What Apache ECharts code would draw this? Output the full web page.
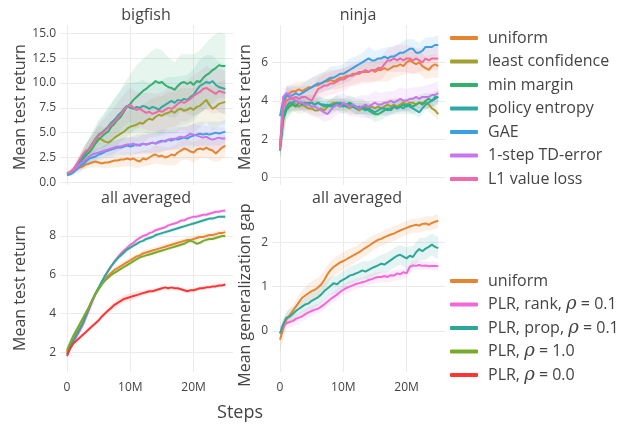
<!DOCTYPE html>
<html><head><meta charset="utf-8">
<script src="https://cdn.jsdelivr.net/npm/echarts@6/dist/echarts.min.js"></script>
<style>html,body{margin:0;padding:0;background:#fff}#c{width:640px;height:426px}</style>
</head><body><div id="c"></div>
<script>
// x positions in millions of steps
const steps = [0,0.5,1,1.5,2,2.5,3,3.5,4,4.5,5,5.5,6,6.5,7,7.5,8,8.5,9,9.5,10,10.5,11,11.5,12,12.5,13,13.5,14,14.5,15,15.5,16,16.5,17,17.5,18,18.5,19,19.5,20,20.5,21,21.5,22,22.5,23,23.5,24,24.5,25];
const bandSteps = [0,1,2,3,4,5,6,7,8,9,10,11,12,13,14,15,16,17,18,19,20,21,22,23,24,25];
const xTicks = [0,10,20];
const bigfishTicks = [0,2.5,5,7.5,10,12.5,15];
const ninjaTicks = [0,2,4,6];
const avgTicks = [2,4,6,8];
const gapTicks = [0,1,2];

const names1 = ['uniform','least confidence','min margin','policy entropy','GAE','1-step TD-error','L1 value loss'];
const colors1 = ['#e6852f','#a3a033','#33b06a','#2eaaa4','#3a9fe6','#c875f0','#f06aa8'];
const names2 = ['uniform','PLR, rank, ρ = 0.1','PLR, prop, ρ = 0.1','PLR, ρ = 1.0','PLR, ρ = 0.0'];
const colors2 = ['#e6852f','#f268d8','#2ca89a','#7aaa2c','#ff3535'];

// bigfish
const bigfishUniform = [0.9,1.0,1.1,1.3,1.5,1.6,1.8,1.9,2.0,2.1,2.0,1.9,2.0,2.0,2.1,2.2,2.2,2.3,2.3,2.4,2.3,2.4,2.2,2.1,2.4,2.3,2.5,2.7,2.8,2.6,2.7,2.5,2.6,2.8,2.7,3.0,3.2,3.4,3.3,3.1,3.0,3.3,3.4,3.3,3.5,3.3,3.2,2.9,3.2,3.5,3.7];
const bigfishLeastConf = [0.9,1.0,1.3,1.7,2.2,2.6,3.0,3.3,3.8,4.2,4.5,4.3,4.1,4.0,4.2,4.5,4.7,4.9,5.1,5.4,5.6,5.7,5.8,6.0,5.9,6.2,6.4,6.3,6.6,6.8,6.7,6.9,7.0,7.2,7.0,7.3,7.4,7.2,7.3,7.5,7.3,7.6,7.7,8.0,8.3,7.8,7.4,7.6,7.9,8.0,8.1];
const bigfishMinMargin = [0.8,0.9,1.1,1.4,1.8,2.3,2.7,3.0,3.4,3.9,4.3,4.6,4.9,5.1,5.6,5.9,6.3,6.6,7.1,7.6,7.9,8.3,8.6,8.9,9.2,9.4,9.7,9.9,10.2,10.0,10.1,9.8,9.6,9.5,9.3,9.7,10.0,10.1,9.9,10.1,9.8,10.2,10.1,10.5,10.8,11.0,11.3,11.5,11.8,11.7,11.7];
const bigfishPolicyEnt = [0.8,0.9,1.2,1.6,2.1,2.6,3.0,3.4,3.9,4.4,4.8,5.0,5.3,5.6,6.0,6.3,6.7,7.0,7.4,7.7,7.5,7.4,7.6,7.5,7.7,7.6,7.4,7.6,7.5,7.3,7.6,7.8,8.0,8.2,8.0,8.3,8.2,8.4,8.3,8.6,8.8,9.3,9.7,9.9,10.1,10.0,10.2,9.8,9.6,9.5,9.4];
const bigfishGAE = [0.7,0.8,1.0,1.3,1.6,1.8,2.1,2.4,2.5,2.6,2.8,2.9,3.1,3.2,3.3,3.4,3.5,3.5,3.6,3.7,3.6,3.7,3.8,3.7,3.9,3.8,3.9,4.0,3.9,4.1,4.2,4.1,4.3,4.2,4.4,4.3,4.4,4.5,4.4,4.6,4.7,4.8,4.9,4.8,4.9,4.8,4.9,5.0,4.9,5.0,5.1];
const bigfishTD = [0.9,1.0,1.2,1.5,1.8,2.1,2.3,2.6,2.8,2.9,3.0,3.1,3.2,3.3,3.4,3.5,3.6,3.6,3.7,3.8,3.8,3.9,3.7,3.8,3.9,3.8,3.9,4.0,3.9,4.0,4.1,4.2,4.3,4.4,4.3,4.5,4.6,4.5,4.7,4.9,4.8,4.7,4.6,4.5,4.6,4.4,4.3,4.4,4.5,4.4,4.4];
const bigfishL1 = [0.9,1.0,1.3,1.8,2.3,2.8,3.2,3.3,3.8,4.3,4.7,4.9,5.2,5.5,5.8,6.1,6.5,6.8,7.3,7.6,7.8,7.5,7.3,7.4,7.2,7.0,7.1,6.9,7.0,7.2,7.1,7.3,7.5,7.4,7.6,7.9,8.1,8.0,8.2,8.4,8.7,8.9,9.1,9.4,9.5,9.3,9.1,8.9,9.2,9.1,9.0];
// bigfish band half-widths (at bandSteps)
const bigfishUniformHW = [0.1,0.2,0.3,0.4,0.5,0.5,0.6,0.6,0.7,0.7,0.7,0.8,0.8,0.8,0.9,0.9,0.9,1.0,1.0,1.0,1.0,1.0,1.0,1.1,1.1,1.1];
const bigfishLeastConfHW = [0.2,0.3,0.5,0.8,1.0,1.2,1.4,1.5,1.6,1.7,1.8,1.8,1.9,1.9,2.0,2.0,2.1,2.1,2.1,2.2,2.2,2.2,2.2,2.2,2.2,2.2];
const bigfishMinMarginHW = [0.2,0.4,0.8,1.2,1.5,1.8,2.0,2.3,2.5,2.8,3.0,3.2,3.2,3.3,3.3,3.2,3.0,2.8,2.9,3.0,3.1,3.2,3.3,3.4,3.3,3.2];
const bigfishPolicyEntHW = [0.2,0.3,0.6,0.9,1.2,1.5,1.8,2.0,2.2,2.3,2.5,2.5,2.6,2.6,2.7,2.7,2.6,2.6,2.5,2.5,2.6,2.7,2.7,2.6,2.5,2.5];
const bigfishGAEHW = [0.1,0.2,0.3,0.4,0.5,0.6,0.7,0.8,0.8,0.9,0.9,1.0,1.0,1.0,1.1,1.1,1.1,1.1,1.2,1.2,1.2,1.2,1.2,1.2,1.2,1.2];
const bigfishTDHW = [0.1,0.2,0.3,0.4,0.5,0.5,0.6,0.7,0.7,0.8,0.8,0.8,0.9,0.9,0.9,1.0,1.0,1.0,1.0,1.0,1.1,1.1,1.1,1.1,1.1,1.1];
const bigfishL1HW = [0.2,0.3,0.5,0.7,0.9,1.1,1.3,1.4,1.5,1.6,1.7,1.8,1.8,1.9,1.9,2.0,2.0,2.0,2.0,2.1,2.1,2.1,2.2,2.2,2.2,2.2];

// ninja
const ninjaUniform = [1.6,3.8,4.2,4.4,4.5,4.5,4.6,4.5,4.6,4.7,4.7,4.8,4.8,4.9,5.0,5.0,5.1,5.0,5.1,5.2,5.2,5.3,5.3,5.4,5.4,5.4,5.5,5.5,5.5,5.6,5.5,5.6,5.6,5.7,5.6,5.7,5.8,5.8,5.9,5.8,6.0,6.1,6.0,5.9,6.0,5.8,5.7,5.6,5.8,5.9,5.8];
const ninjaLeastConf = [1.6,3.3,3.6,3.8,3.9,3.8,3.7,3.8,3.7,3.6,3.6,3.5,3.5,3.6,3.5,3.7,3.8,3.9,3.8,3.7,3.8,3.7,3.6,3.7,3.6,3.5,3.6,3.7,3.6,3.7,3.6,3.7,3.6,3.7,3.8,3.7,3.8,3.7,3.8,3.9,3.8,3.9,3.9,3.8,3.9,3.9,3.9,3.8,3.6,3.5,3.3];
const ninjaMinMargin = [1.4,3.0,3.5,3.7,3.8,3.7,3.9,3.8,3.9,3.8,3.9,3.8,3.9,3.8,3.7,3.8,3.7,3.8,3.9,3.8,3.7,3.8,3.9,3.8,3.7,3.6,3.7,3.6,3.5,3.4,3.3,3.3,3.4,3.5,3.6,3.5,3.7,3.6,3.7,3.8,3.7,3.8,3.7,3.8,3.9,3.8,4.0,4.1,4.0,4.1,4.2];
const ninjaPolicyEnt = [1.5,3.2,3.7,3.9,3.9,4.0,3.9,3.9,3.8,3.9,3.9,3.8,3.9,3.8,3.8,3.7,3.8,3.7,3.8,3.9,3.8,3.7,3.8,3.7,3.6,3.7,3.6,3.5,3.6,3.5,3.4,3.5,3.6,3.6,3.5,3.6,3.7,3.6,3.7,3.6,3.8,3.7,3.6,3.5,3.4,3.6,3.8,3.9,4.0,4.2,4.2];
const ninjaGAE = [3.2,4.0,4.3,4.2,4.3,4.4,4.3,4.4,4.5,4.6,4.7,4.8,4.9,4.9,5.0,5.1,5.2,5.2,5.3,5.4,5.4,5.5,5.6,5.7,5.8,5.9,6.0,6.1,6.2,6.1,6.1,6.2,6.2,6.3,6.2,6.3,6.3,6.4,6.5,6.5,6.6,6.7,6.7,6.5,6.5,6.6,6.8,6.8,6.8,6.9,6.9];
const ninjaTD = [1.5,4.2,4.4,4.3,4.1,4.0,3.9,3.9,3.8,3.8,3.7,3.7,3.6,3.5,3.4,3.3,3.5,3.7,3.8,3.7,3.9,3.8,3.7,3.8,3.7,3.6,3.7,3.8,3.7,3.8,3.9,3.8,3.8,3.9,3.9,4.0,3.9,4.0,4.1,4.0,4.0,4.1,4.1,4.2,4.1,4.2,4.2,4.2,4.3,4.3,4.4];
const ninjaL1 = [1.5,3.6,4.0,4.1,4.1,4.2,4.1,4.2,4.2,4.1,4.0,4.3,4.6,4.7,4.8,4.8,4.9,4.9,5.0,5.1,5.1,5.2,5.3,5.3,5.4,5.5,5.5,5.6,5.5,5.6,5.6,5.7,5.7,5.9,6.1,6.1,6.2,6.1,6.2,6.1,6.2,6.2,6.1,6.2,6.1,6.0,6.2,6.1,6.2,6.2,6.2];
const ninjaUniformHW = [0.5,0.5,0.4,0.4,0.4,0.5,0.5,0.5,0.5,0.5,0.5,0.5,0.5,0.5,0.5,0.5,0.6,0.6,0.6,0.6,0.6,0.6,0.6,0.6,0.6,0.6];
const ninjaLeastConfHW = [0.5,0.4,0.4,0.4,0.3,0.3,0.3,0.3,0.3,0.3,0.3,0.3,0.3,0.3,0.3,0.3,0.3,0.3,0.3,0.3,0.3,0.3,0.3,0.3,0.3,0.3];
const ninjaMinMarginHW = [0.6,0.5,0.4,0.4,0.4,0.4,0.4,0.4,0.4,0.4,0.4,0.4,0.4,0.4,0.4,0.4,0.4,0.4,0.4,0.4,0.4,0.4,0.4,0.4,0.4,0.4];
const ninjaPolicyEntHW = [0.5,0.4,0.4,0.3,0.3,0.3,0.3,0.3,0.3,0.3,0.3,0.3,0.3,0.3,0.3,0.3,0.3,0.3,0.3,0.3,0.3,0.3,0.3,0.3,0.3,0.3];
const ninjaGAEHW = [0.4,0.5,0.5,0.5,0.5,0.5,0.5,0.5,0.6,0.5,0.5,0.6,0.5,0.5,0.6,0.5,0.5,0.6,0.5,0.5,0.6,0.5,0.5,0.5,0.5,0.5];
const ninjaTDHW = [0.5,0.4,0.4,0.4,0.4,0.5,0.5,0.5,0.5,0.5,0.5,0.5,0.5,0.6,0.6,0.6,0.6,0.6,0.6,0.6,0.6,0.6,0.6,0.6,0.6,0.6];
const ninjaL1HW = [0.5,0.6,0.6,0.6,0.6,0.6,0.6,0.6,0.6,0.6,0.6,0.6,0.6,0.6,0.6,0.6,0.6,0.6,0.7,0.7,0.7,0.7,0.6,0.6,0.6,0.6];

// all averaged: mean test return
const avgUniform = [2.0,2.4,2.8,3.1,3.4,3.7,4.0,4.35,4.7,5.0,5.3,5.55,5.75,5.95,6.1,6.25,6.35,6.45,6.55,6.65,6.75,6.85,6.95,7.0,7.1,7.15,7.2,7.25,7.3,7.35,7.4,7.45,7.5,7.55,7.6,7.65,7.7,7.75,7.8,7.8,7.85,7.9,7.95,7.95,8.0,8.05,8.05,8.1,8.15,8.15,8.2];
const avgRank = [1.9,2.2,2.5,2.8,3.1,3.4,3.8,4.2,4.6,5.0,5.3,5.6,5.9,6.2,6.45,6.7,6.9,7.1,7.25,7.4,7.55,7.65,7.8,7.9,8.0,8.05,8.15,8.2,8.3,8.35,8.4,8.45,8.55,8.6,8.65,8.7,8.8,8.8,8.9,8.95,9.0,9.0,9.05,9.1,9.1,9.15,9.2,9.25,9.25,9.3,9.3];
const avgProp = [1.9,2.3,2.6,2.9,3.2,3.5,3.9,4.3,4.7,5.05,5.35,5.65,5.95,6.2,6.45,6.65,6.85,7.0,7.15,7.3,7.4,7.5,7.6,7.7,7.75,7.85,7.9,7.95,8.05,8.1,8.15,8.2,8.25,8.3,8.35,8.4,8.45,8.5,8.55,8.6,8.65,8.7,8.75,8.8,8.85,8.9,8.9,8.95,9.0,9.0,9.0];
const avgRho1 = [2.1,2.5,2.85,3.15,3.45,3.75,4.05,4.35,4.7,5.0,5.25,5.5,5.7,5.85,6.0,6.1,6.2,6.3,6.4,6.5,6.6,6.7,6.8,6.9,6.95,7.0,7.05,7.1,7.15,7.2,7.25,7.3,7.35,7.4,7.45,7.5,7.55,7.6,7.7,7.75,7.7,7.6,7.65,7.75,7.8,7.85,7.85,7.9,7.95,8.0,8.0];
const avgRho0 = [1.8,2.2,2.45,2.6,2.75,2.9,3.05,3.2,3.35,3.5,3.65,3.85,4.0,4.15,4.3,4.45,4.55,4.65,4.75,4.8,4.85,4.9,4.95,5.0,5.05,5.1,5.15,5.15,5.2,5.25,5.3,5.35,5.3,5.35,5.3,5.3,5.25,5.2,5.15,5.2,5.2,5.25,5.3,5.3,5.35,5.35,5.4,5.4,5.45,5.45,5.5];
const avgUniformHW = [0.05,0.1,0.1,0.1,0.1,0.1,0.12,0.12,0.15,0.15,0.15,0.15,0.15,0.15,0.15,0.15,0.15,0.15,0.15,0.15,0.15,0.15,0.15,0.15,0.15,0.15];
const avgRankHW = [0.05,0.1,0.1,0.1,0.1,0.1,0.1,0.1,0.1,0.1,0.1,0.1,0.1,0.1,0.1,0.1,0.1,0.1,0.1,0.1,0.1,0.1,0.1,0.1,0.1,0.1];
const avgPropHW = [0.05,0.1,0.1,0.1,0.1,0.1,0.1,0.1,0.1,0.1,0.1,0.1,0.1,0.1,0.1,0.1,0.1,0.1,0.1,0.1,0.1,0.1,0.1,0.1,0.1,0.1];
const avgRho1HW = [0.05,0.1,0.1,0.1,0.1,0.1,0.1,0.1,0.1,0.1,0.1,0.1,0.1,0.1,0.1,0.1,0.1,0.1,0.1,0.1,0.1,0.1,0.1,0.1,0.1,0.1];
const avgRho0HW = [0.05,0.1,0.1,0.1,0.1,0.1,0.12,0.15,0.18,0.2,0.2,0.18,0.15,0.12,0.1,0.1,0.1,0.1,0.1,0.1,0.1,0.1,0.1,0.1,0.1,0.1];

// all averaged: generalization gap
const gapUniform = [-0.2,0.05,0.25,0.35,0.45,0.55,0.65,0.75,0.8,0.85,0.9,0.93,0.98,1.05,1.15,1.28,1.38,1.45,1.5,1.55,1.58,1.62,1.66,1.7,1.74,1.78,1.83,1.88,1.92,1.97,2.02,2.06,2.08,2.12,2.15,2.18,2.2,2.24,2.27,2.3,2.33,2.36,2.38,2.4,2.38,2.42,2.43,2.4,2.44,2.47,2.49];
const gapRank = [-0.06,0.1,0.17,0.2,0.22,0.27,0.3,0.33,0.38,0.42,0.45,0.48,0.5,0.55,0.6,0.66,0.72,0.77,0.82,0.88,0.93,0.97,1.0,1.03,1.06,1.08,1.1,1.12,1.15,1.17,1.2,1.22,1.22,1.24,1.22,1.26,1.25,1.3,1.28,1.33,1.3,1.45,1.48,1.47,1.49,1.47,1.48,1.46,1.47,1.47,1.46];
const gapProp = [-0.06,0.15,0.3,0.32,0.38,0.45,0.5,0.55,0.6,0.62,0.68,0.72,0.76,0.82,0.9,0.96,1.02,1.08,1.05,1.12,1.16,1.2,1.25,1.27,1.3,1.33,1.37,1.34,1.38,1.42,1.45,1.48,1.52,1.5,1.55,1.6,1.65,1.7,1.72,1.68,1.64,1.7,1.67,1.78,1.85,1.8,1.86,1.9,1.95,1.9,1.87];
const gapUniformHW = [0.3,0.15,0.15,0.18,0.2,0.22,0.22,0.22,0.2,0.2,0.2,0.2,0.18,0.18,0.18,0.16,0.16,0.16,0.16,0.16,0.16,0.16,0.16,0.16,0.16,0.16];
const gapRankHW = [0.15,0.12,0.12,0.12,0.12,0.12,0.12,0.12,0.12,0.12,0.12,0.12,0.12,0.12,0.12,0.12,0.12,0.12,0.12,0.12,0.1,0.1,0.1,0.1,0.1,0.1];
const gapPropHW = [0.15,0.15,0.15,0.15,0.18,0.2,0.2,0.2,0.2,0.2,0.2,0.2,0.2,0.2,0.2,0.2,0.2,0.22,0.22,0.22,0.25,0.25,0.25,0.25,0.25,0.25];

const FONT = '"Open Sans", "Noto Sans", sans-serif';
const TXT = '#444';
const GRIDC = '#ebebeb';

const panels = [
  {g:0, series:[[bigfishUniform,bigfishUniformHW],[bigfishLeastConf,bigfishLeastConfHW],[bigfishMinMargin,bigfishMinMarginHW],[bigfishPolicyEnt,bigfishPolicyEntHW],[bigfishGAE,bigfishGAEHW],[bigfishTD,bigfishTDHW],[bigfishL1,bigfishL1HW]], names:names1, colors:colors1},
  {g:1, series:[[ninjaUniform,ninjaUniformHW],[ninjaLeastConf,ninjaLeastConfHW],[ninjaMinMargin,ninjaMinMarginHW],[ninjaPolicyEnt,ninjaPolicyEntHW],[ninjaGAE,ninjaGAEHW],[ninjaTD,ninjaTDHW],[ninjaL1,ninjaL1HW]], names:names1, colors:colors1},
  {g:2, series:[[avgUniform,avgUniformHW],[avgRank,avgRankHW],[avgProp,avgPropHW],[avgRho1,avgRho1HW],[avgRho0,avgRho0HW]], names:names2, colors:colors2},
  {g:3, series:[[gapUniform,gapUniformHW],[gapRank,gapRankHW],[gapProp,gapPropHW]], names:names2, colors:colors2}
];

const series = [];
panels.forEach(p => {
  // shaded bands (mean ± spread), drawn as polygons through the axis scales
  p.series.forEach((s, k) => {
    const vals = s[0], hw = s[1], col = p.colors[k];
    const bandData = bandSteps.map((x, i) => [x, vals[i*2] - hw[i], vals[i*2] + hw[i]]);
    series.push({type:'custom', xAxisIndex:p.g, yAxisIndex:p.g, silent:true, clip:true, z:1, animation:false,
      encode:{x:0, y:[1,2]},
      data:bandData,
      renderItem:(params, api) => {
        if (params.dataIndex !== 0) return null;
        const pts = [];
        for (let i = 0; i < bandData.length; i++) pts.push(api.coord([bandData[i][0], bandData[i][2]]));
        for (let i = bandData.length - 1; i >= 0; i--) pts.push(api.coord([bandData[i][0], bandData[i][1]]));
        return {type:'polygon', shape:{points:pts}, style:{fill:col, opacity:0.12}};
      }});
  });
  p.series.forEach((s, k) => {
    const vals = s[0], col = p.colors[k];
    series.push({type:'line', name:p.names[k], xAxisIndex:p.g, yAxisIndex:p.g, data:steps.map((x,i)=>[x, vals[i]]),
      showSymbol:false, symbol:'none', animation:false, z:3, lineStyle:{width:2, color:col}, itemStyle:{color:col}});
  });
});

const grids = [
  {left:60, top:25, width:173, height:160},
  {left:272, top:25, width:173, height:160},
  {left:60, top:200, width:173, height:172},
  {left:272, top:200, width:173, height:172}
];
const xr = [[-1.106,26.22],[-1.264,26.07],[-1.106,26.22],[-1.264,26.07]];
const yr = [[-0.27,15.84],[-0.38,7.94],[0.98,9.86],[-0.93,2.96]];
const yt = [bigfishTicks, ninjaTicks, avgTicks, gapTicks];

const xAxis = grids.map((g, i) => ({
  type:'value', gridIndex:i, min:xr[i][0], max:xr[i][1],
  axisLine:{show:false}, axisTick:{show:false, customValues:xTicks},
  axisLabel:{show:i>=2, customValues:xTicks, formatter:v => v===0 ? '0' : v + 'M', color:TXT, fontSize:12, fontFamily:FONT, margin:10},
  splitLine:{show:true, lineStyle:{color:GRIDC, width:1}}
}));
const yAxis = grids.map((g, i) => ({
  type:'value', gridIndex:i, min:yr[i][0], max:yr[i][1],
  axisLine:{show:false}, axisTick:{show:false, customValues:yt[i]},
  axisLabel:{customValues:yt[i], formatter:v => i===0 ? v.toFixed(1) : String(v), color:TXT, fontSize:12, fontFamily:FONT, margin:4},
  splitLine:{show:true, lineStyle:{color:GRIDC, width:1}}
}));

const legendBase = {orient:'vertical', left:445, icon:'roundRect', itemWidth:28, itemHeight:4, itemGap:5.5, selectedMode:false,
  textStyle:{fontSize:16, color:TXT, fontFamily:FONT, lineHeight:18, padding:[0,0,0,5],
    rich:{i:{fontSize:18, fontStyle:'italic', fontFamily:'"DejaVu Serif", serif', color:TXT, lineHeight:18}}}};

function txt(text, x, y, size, rot) {
  return {type:'text', x:x, y:y, rotation:rot||0, silent:true,
    style:{text:text, fill:TXT, font:size + 'px ' + FONT, textAlign:'center', textVerticalAlign:'middle'}};
}

const option = {
  backgroundColor:'#fff',
  animation:false,
  grid:grids,
  xAxis:xAxis,
  yAxis:yAxis,
  legend:[
    Object.assign({}, legendBase, {top:24, data:names1}),
    Object.assign({}, legendBase, {top:267, data:names2, formatter:n => n.replace('ρ', '{i|ρ}')})
  ],
  graphic:[
    txt('bigfish', 146, 15, 16),
    txt('ninja', 358, 15, 16),
    txt('all averaged', 146, 198, 16),
    txt('all averaged', 357, 198, 16),
    txt('Mean test return', 20, 107, 16, Math.PI/2),
    txt('Mean test return', 245, 107, 16, Math.PI/2),
    txt('Mean test return', 20, 288, 16, Math.PI/2),
    txt('Mean generalization gap', 245, 295, 16, Math.PI/2),
    txt('Steps', 240, 413, 18)
  ],
  series:series
};

const chart = echarts.init(document.getElementById('c'), null, {renderer:'canvas'});
chart.setOption(option);
</script></body></html>
